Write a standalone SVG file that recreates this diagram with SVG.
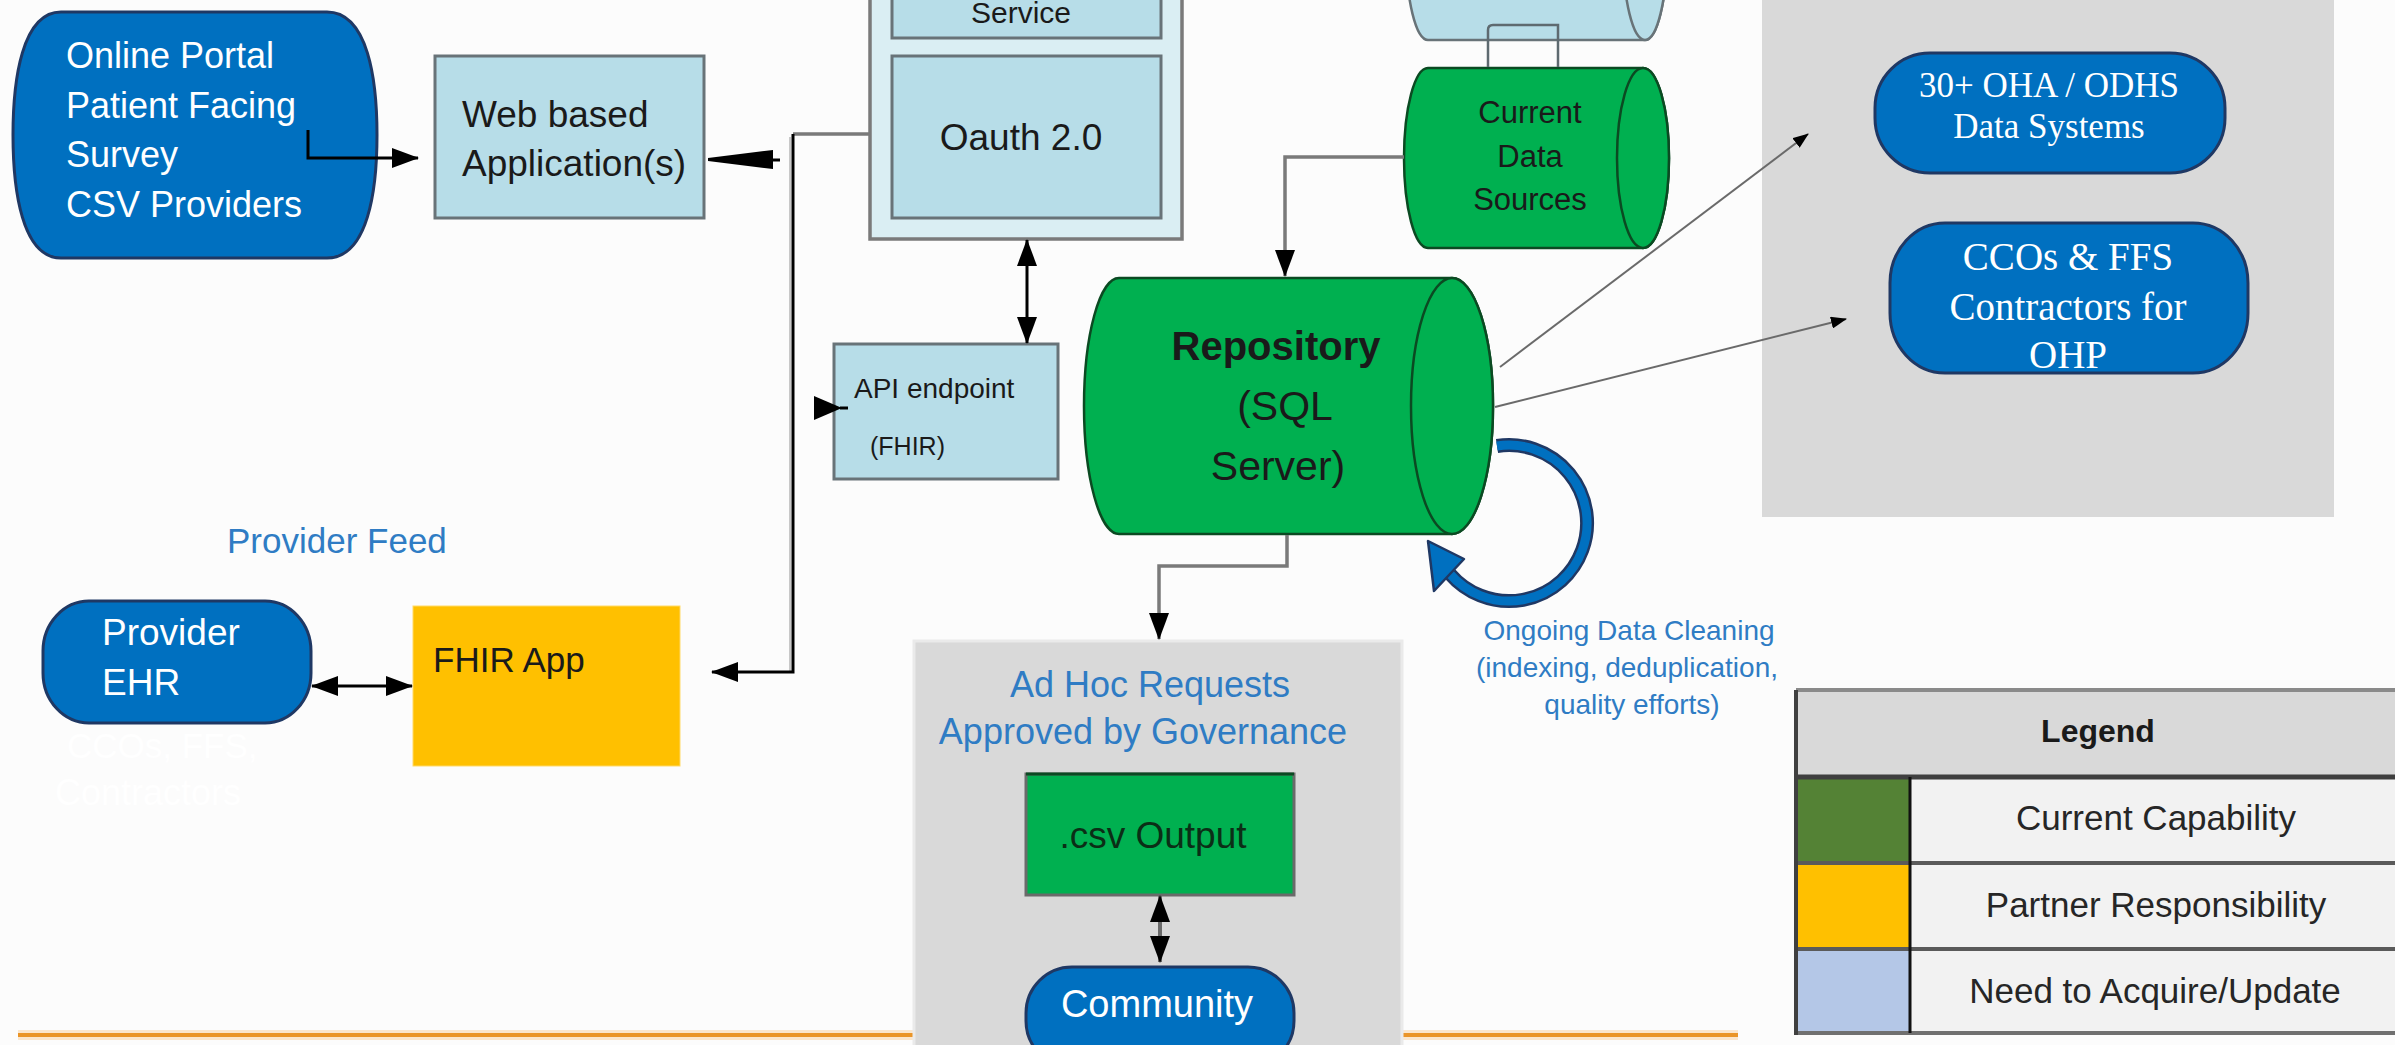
<svg xmlns="http://www.w3.org/2000/svg" width="2395" height="1045" viewBox="0 0 2395 1045">
<style>
text{font-family:"Liberation Sans",Arial,sans-serif}
.serif{font-family:"Liberation Serif","Times New Roman",serif}
.w{fill:#ffffff}
.k{fill:#1a1a1a}
.b{fill:#2F7CC4}
.mid{text-anchor:middle}
.bluenode{fill:#0070C0;stroke:#1F3864;stroke-width:3}
.lb{fill:#B7DDE8;stroke:#687378;stroke-width:3}
.grn{fill:#00B050;stroke:#0B4A22;stroke-width:2.5}
.panel{fill:#D9D9D9}
.blk{fill:none;stroke:#000;stroke-width:3}
.gry{fill:none;stroke:#7A7A7A;stroke-width:3.5}
.thin{fill:none;stroke:#6A6A6A;stroke-width:2}
</style>
<defs>
<marker id="arr" viewBox="0 0 27 20" refX="26" refY="10" markerWidth="27" markerHeight="20" markerUnits="userSpaceOnUse" orient="auto-start-reverse">
<path d="M0,0 L27,10 L0,20 Z" fill="#000"/>
</marker>
<marker id="arrS" viewBox="0 0 16 12" refX="15" refY="6" markerWidth="16" markerHeight="12" markerUnits="userSpaceOnUse" orient="auto">
<path d="M0,0 L16,6 L0,12 Z" fill="#000"/>
</marker>
</defs>
<rect x="0" y="0" width="2395" height="1045" fill="#FCFCFC"/>

<!-- background panels -->
<rect id="panel-outputs" class="panel" x="1762" y="-5" width="572" height="522"/>
<g id="bottom-rule">
<line x1="18" y1="1035" x2="1738" y2="1035" stroke="#FBE6CC" stroke-width="10"/>
<line x1="18" y1="1035" x2="1738" y2="1035" stroke="#EA9528" stroke-width="4"/>
</g>
<rect id="panel-adhoc" class="panel" x="914" y="641" width="488" height="420" stroke="#EAEAEA" stroke-width="3"/>

<!-- ghost text -->
<g id="ghost-text">
<text class="w" x="67" y="758" font-size="35">CCOs, FFS,</text>
<text class="w" x="55" y="805" font-size="36">Contractors</text>
</g>

<g id="node-online-portal">
<path class="bluenode" d="M61,12 H327 C368,12 377,80 377,135 C377,190 368,258 327,258 H61 C22,258 13,190 13,135 C13,80 22,12 61,12 Z"/>
<text class="w" x="66" y="68" font-size="36">Online Portal</text>
<text class="w" x="66" y="118" font-size="36">Patient Facing</text>
<text class="w" x="66" y="167" font-size="36">Survey</text>
<text class="w" x="66" y="217" font-size="36">CSV Providers</text>
</g>

<g id="node-web-app">
<rect class="lb" x="435" y="56" width="269" height="162"/>
<text class="k" x="462" y="127" font-size="37">Web based</text>
<text class="k" x="462" y="176" font-size="37">Application(s)</text>
</g>

<g id="node-auth-container">
<rect x="870" y="-60" width="312" height="299" fill="#DAEEF3" stroke="#7A7A7A" stroke-width="3.5"/>
<g id="node-service">
<rect class="lb" x="892" y="-30" width="269" height="68"/>
<text class="k mid" x="1021" y="23" font-size="30">Service</text>
</g>
<g id="node-oauth">
<rect class="lb" x="892" y="56" width="269" height="162"/>
<text class="k mid" x="1021" y="150" font-size="37">Oauth 2.0</text>
</g>
</g>

<g id="node-api-endpoint">
<rect class="lb" x="834" y="344" width="224" height="135"/>
<text class="k" x="854" y="398" font-size="28">API endpoint</text>
<text class="k" x="870" y="455" font-size="25">(FHIR)</text>
</g>

<g id="node-upper-source">
<path d="M1428,-140 H1645 A22 90 0 0 1 1645,40 H1428 A22 90 0 0 1 1428,-140 Z" fill="#B7DDE8" stroke="#687378" stroke-width="2.5"/>
<ellipse cx="1645" cy="-50" rx="22" ry="90" fill="#B7DDE8" stroke="#687378" stroke-width="2.5"/>
</g>

<g id="node-current-data">
<path class="grn" d="M1428,68 H1643 A26 90 0 0 1 1643,248 H1428 A24 90 0 0 1 1428,68 Z"/>
<ellipse class="grn" cx="1643" cy="158" rx="26" ry="90"/>
<text class="k mid" x="1530" y="123" font-size="31">Current</text>
<text class="k mid" x="1530" y="167" font-size="31">Data</text>
<text class="k mid" x="1530" y="210" font-size="31">Sources</text>
</g>

<g id="node-repository">
<path class="grn" d="M1119,278 H1452 A41 128 0 0 1 1452,534 H1119 A35 128 0 0 1 1119,278 Z"/>
<ellipse class="grn" cx="1452" cy="406" rx="41" ry="128"/>
<text class="k mid" x="1276" y="360" font-size="40" font-weight="bold">Repository</text>
<text class="k mid" x="1285" y="420" font-size="41">(SQL</text>
<text class="k mid" x="1278" y="480" font-size="41">Server)</text>
</g>

<g id="node-oha-systems">
<rect class="bluenode" x="1875" y="53" width="350" height="120" rx="55" ry="55"/>
<text class="w serif mid" x="2049" y="97" font-size="35">30+ OHA / ODHS</text>
<text class="w serif mid" x="2049" y="138" font-size="35">Data Systems</text>
</g>

<g id="node-ccos">
<rect class="bluenode" x="1890" y="223" width="358" height="150" rx="55" ry="60"/>
<text class="w serif mid" x="2068" y="270" font-size="39">CCOs &amp; FFS</text>
<text class="w serif mid" x="2068" y="320" font-size="39">Contractors for</text>
<text class="w serif mid" x="2068" y="368" font-size="39">OHP</text>
</g>

<g id="label-provider-feed">
<text class="b" x="227" y="553" font-size="35">Provider Feed</text>
</g>

<g id="node-provider-ehr">
<rect class="bluenode" x="43" y="601" width="268" height="122" rx="46" ry="50"/>
<text class="w" x="102" y="645" font-size="37">Provider</text>
<text class="w" x="102" y="695" font-size="37">EHR</text>
</g>

<g id="node-fhir-app">
<rect x="413" y="606" width="267" height="160" fill="#FFC000" stroke="#FFD966" stroke-width="1"/>
<text class="k" x="433" y="672" font-size="35">FHIR App</text>
</g>

<g id="label-cleaning">
<text class="b mid" x="1629" y="640" font-size="28">Ongoing Data Cleaning</text>
<text class="b mid" x="1627" y="677" font-size="28">(indexing, deduplication,</text>
<text class="b mid" x="1632" y="714" font-size="28">quality efforts)</text>
</g>

<g id="label-adhoc">
<text class="b mid" x="1150" y="697" font-size="36">Ad Hoc Requests</text>
<text class="b mid" x="1143" y="744" font-size="36">Approved by Governance</text>
</g>

<g id="node-csv-output">
<rect x="1026" y="774" width="268" height="121" fill="#00B050" stroke="#6A6A6A" stroke-width="3"/>
<line x1="1026" y1="774" x2="1294" y2="774" stroke="#0B4A22" stroke-width="3"/>
<text class="mid" x="1153" y="848" font-size="37" fill="#0B2E16">.csv Output</text>
</g>

<g id="node-community">
<rect class="bluenode" x="1026" y="967" width="268" height="100" rx="46" ry="46"/>
<text class="w mid" x="1157" y="1017" font-size="38">Community</text>
</g>

<g id="connectors">
<path class="blk" d="M308,130 V158 H418" stroke-width="2.5" marker-end="url(#arr)"/>
<polygon points="708,158 773,150 773,169 708,161" fill="#000"/>
<line x1="773" y1="160" x2="780" y2="160" stroke="#000" stroke-width="3"/>
<path d="M870,134 H793" fill="none" stroke="#7A7A7A" stroke-width="3.5"/>
<path d="M790,137 V672" fill="none" stroke="#C8C8C8" stroke-width="2"/>
<path class="blk" d="M793,134 V672 H712" marker-end="url(#arr)"/>
<polygon points="814,396 842,408 814,420" fill="#000"/>
<line x1="840" y1="408" x2="848" y2="408" stroke="#000" stroke-width="3"/>
<line class="blk" x1="1027" y1="240" x2="1027" y2="343" marker-start="url(#arr)" marker-end="url(#arr)"/>
<path class="gry" d="M1404,157 H1285 V276" marker-end="url(#arr)"/>
<path d="M1488,67 V30 Q1488,25 1493,25 H1558 V67" fill="none" stroke="#5E6A70" stroke-width="2.5"/>
<path class="gry" d="M1287,535 V566 H1159 V639" marker-end="url(#arr)"/>
<line class="thin" x1="1500" y1="367" x2="1808" y2="134" marker-end="url(#arrS)"/>
<line class="thin" x1="1495" y1="407" x2="1846" y2="319" marker-end="url(#arrS)"/>
<line class="blk" x1="312" y1="686" x2="412" y2="686" marker-start="url(#arr)" marker-end="url(#arr)"/>
<line x1="1160" y1="896" x2="1160" y2="962" stroke="#6A6A6A" stroke-width="4" marker-start="url(#arr)" marker-end="url(#arr)"/>
<g id="cleaning-loop">
<path d="M1497,446 A78 78 0 1 1 1450,574" fill="none" stroke="#1F3864" stroke-width="14"/>
<path d="M1497,446 A78 78 0 1 1 1450,574" fill="none" stroke="#0070C0" stroke-width="9"/>
<polygon points="1428,541 1464,559 1434,591" fill="#0070C0" stroke="#1F3864" stroke-width="2.5" stroke-linejoin="round"/>
</g>
</g>

<g id="legend">
<rect x="1796" y="690" width="610" height="87" fill="#D9D9D9"/>
<rect x="1796" y="777" width="114" height="86" fill="#548235"/>
<rect x="1796" y="863" width="114" height="86" fill="#FFC000"/>
<rect x="1796" y="949" width="114" height="84" fill="#B4C7E7"/>
<rect x="1910" y="777" width="496" height="256" fill="#F2F2F2"/>
<g stroke="#5A5A5A" stroke-width="4">
<line x1="1796" y1="690" x2="2400" y2="690" stroke="#8A8A8A"/>
<line x1="1796" y1="777" x2="2400" y2="777" stroke="#3F3F3F" stroke-width="5"/>
<line x1="1796" y1="863" x2="2400" y2="863"/>
<line x1="1796" y1="949" x2="2400" y2="949"/>
<line x1="1796" y1="1033" x2="2400" y2="1033" stroke="#707070"/>
<line x1="1796" y1="690" x2="1796" y2="1035" stroke="#404040"/>
<line x1="1910" y1="777" x2="1910" y2="1033" stroke="#111" stroke-width="3"/>
</g>
<text class="mid" x="2098" y="742" font-size="32" font-weight="bold" fill="#1a1a1a">Legend</text>
<text class="mid" x="2156" y="830" font-size="35" fill="#262626">Current Capability</text>
<text class="mid" x="2156" y="917" font-size="35" fill="#262626">Partner Responsibility</text>
<text class="mid" x="2155" y="1003" font-size="35" fill="#262626">Need to Acquire/Update</text>
</g>
</svg>
